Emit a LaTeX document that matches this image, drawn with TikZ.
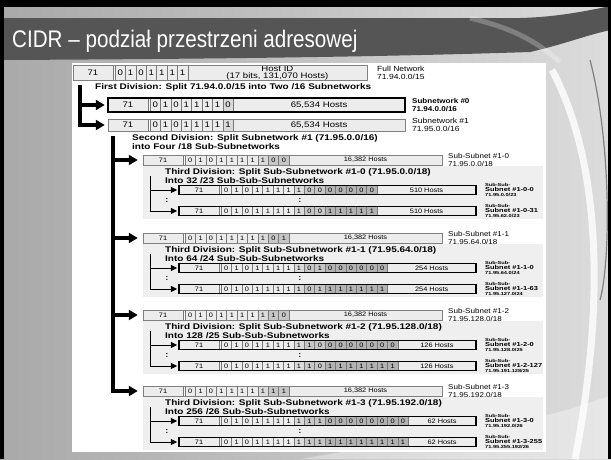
\documentclass[tikz,border=0pt]{standalone}
\usepackage{fontspec}
\setmainfont{Liberation Sans}
\newfontfamily\wideA[FakeStretch=1.15]{Liberation Sans}
\newfontfamily\wideD[FakeStretch=1.2]{Liberation Sans}
\newfontfamily\wideB[FakeStretch=1.22]{Liberation Sans}
\newfontfamily\wideC[FakeStretch=1.28]{Liberation Sans}
\newfontfamily\narrowT[FakeStretch=0.86]{Liberation Sans}
\usetikzlibrary{arrows.meta}
\definecolor{c0}{HTML}{ECECEC}
\definecolor{c1}{HTML}{DADADA}
\definecolor{c2}{HTML}{C6C6C6}
\definecolor{c3}{HTML}{B2B2B2}
\definecolor{cellline}{HTML}{777777}
\definecolor{panelgray}{HTML}{EFEFEF}
\definecolor{band}{HTML}{555555}
\definecolor{bgL}{HTML}{A9A9A9}
\definecolor{bgR}{HTML}{DCDCDC}
\tikzset{
  cell/.style={draw=cellline, fill=c0, line width=0.5pt},
  ctextbig/.style={font=\wideD\fontsize{8}{7.7}\selectfont, inner sep=0pt, align=center},
  ctextsmall/.style={font=\wideA\fontsize{6.4}{7}\selectfont, inner sep=0pt, align=center},
  ctext/.style={ctextbig},
  thinframe/.style={draw=gray, line width=0.7pt},
  thickframe/.style={draw=black, line width=1.4pt},
  head/.style={font=\wideB\bfseries\fontsize{8.2}{8.4}\selectfont, anchor=west, align=left, inner sep=0pt},
  netlabel/.style={font=\wideA\fontsize{7.4}{7.8}\selectfont, anchor=west, align=left, inner sep=0pt},
  sslabel/.style={font=\wideA\fontsize{7}{7.8}\selectfont, anchor=west, align=left, inner sep=0pt},
  ssslabel/.style={font=\wideC\bfseries\fontsize{4.4}{5.3}\selectfont, anchor=west, align=left, inner sep=0pt},
  dotsty/.style={font=\bfseries\fontsize{8}{8}\selectfont, inner sep=0pt},
  bigarrow/.style={line width=3.2pt, -{Triangle[length=9pt,width=10pt]}},
  smallarrow/.style={line width=1pt, -{Triangle[length=6.5pt,width=6pt]}},
  panel/.style={fill=panelgray},
}
% #1 name, #2 y, #3 x0, #4 h, #5 nbits, #6 bits list macro, #7 xend, #8 hosts text, #9 frame style
\newcommand\bitrow[9]{%
  \pgfmathsetmacro\rA{#2-#4/2}%
  \pgfmathsetmacro\rB{#2+#4/2}%
  \pgfmathsetmacro\rH{#3+42+#5*10.4}%
  \edef\bitlist{#6}%
  \node[cell, ctext, minimum width=40pt, minimum height=#4pt] (#1) at ({#3+20},#2) {71};
  \foreach \bv/\bc [count=\bi] in \bitlist {%
    \draw[cell, fill=\bc] ({#3+42+(\bi-1)*10.4},\rA) rectangle ({#3+42+\bi*10.4},\rB);
    \node[ctext] at ({#3+42+(\bi-0.5)*10.4},#2) {\bv};
  }
  \draw[cell] (\rH,\rA) rectangle (#7,\rB);
  \node[ctext] (#1h) at ({(\rH+#7)/2},#2) {#8};
  \draw[#9] (#3,\rA) rectangle (#7,\rB);
}
\newcommand\ssblock[9]{%
  \pgfmathsetmacro\yA{#2+30}%
  \pgfmathsetmacro\yB{#2+51}%
  \pgfmathsetmacro\yD{#2+40.5}%
  \pgfmathsetmacro\yH{#2+16}%
  \pgfmathsetmacro\yP{#2+5.5}%
  \pgfmathsetmacro\yQ{#2+59}%
  \fill[panel] (143,\yP) rectangle (543,\yQ);
  \bitrow{ss#1}{#2}{143}{10}{10}{\bitsS}{442}{16,382 Hosts}{thinframe}
  \node[sslabel] (ssl#1) at (448,#2) {Sub-Subnet \#1-#1\\71.95.#3.0/18};
  \node[head] (th#1) at (165,\yH) {Third Division: Split Sub-Subnetwork \#1-#1 (71.95.#3.0/18)\\Into #4 Sub-Sub-Subnetworks};
  \bitrow{sa#1}{\yA}{179}{9}{#5}{\bitsA}{476}{#6}{thickframe}
  \bitrow{sb#1}{\yB}{179}{9}{#5}{\bitsB}{476}{#6}{thickframe}
  \node[ssslabel] (la#1) at (485,\yA) {Sub-Sub-\\{\fontsize{5.8}{5.3}\selectfont Subnet \#1-#1-0}\\#8};
  \node[ssslabel] (lb#1) at (485,\yB) {Sub-Sub-\\{\fontsize{5.8}{5.3}\selectfont Subnet \#1-#1-#7}\\#9};
  \coordinate (t#1) at (150,\yH);
  \draw[smallarrow, shorten >=1.5pt] (t#1) |- (sa#1.west);
  \draw[smallarrow, shorten >=1.5pt] (t#1) |- (sb#1.west);
  \node[dotsty] (da#1) at (167,\yD) {:};
  \node[dotsty] (db#1) at (300,\yD) {:};
}
\begin{document}
\begin{tikzpicture}[x=1pt,y=-1pt]
\useasboundingbox (0,0) rectangle (611,459);
% background
\shade[left color=bgL, right color=bgR] (0,0) rectangle (611,459);
\fill[white, opacity=0.35] (300,459) .. controls (420,438) and (520,430) .. (611,395) -- (611,459) -- cycle;
\draw[white, opacity=0.8, line width=7pt] (552,70) .. controls (600,160) and (606,300) .. (575,459);
\draw[gray, line width=1.2pt] (590,60) .. controls (611,140) and (611,260) .. (600,300);
% title band
\fill[band] (4,18) -- (520,18) .. controls (560,17) and (590,10) .. (611,6) -- (611,30) .. controls (590,34) and (565,44) .. (530,52) .. controls (380,57) and (200,59) .. (4,60) -- cycle;
\draw[white, opacity=0.25, line width=5pt] (470,18) .. controls (520,30) and (540,45) .. (560,62);
% frame
\fill[black] (0,0) rectangle (611,7);
\fill[black] (0,0) rectangle (4,459);
\fill[black] (608,0) rectangle (611,459);
\node[anchor=base west, inner sep=0pt, text=white, font=\narrowT\fontsize{24}{26}\selectfont] (title) at (12,47) {CIDR – podział przestrzeni adresowej};
% diagram canvas
\fill[white] (72,63) rectangle (546,452);
\def\bitsP{0/c0,1/c0,0/c0,1/c0,1/c0,1/c0,1/c0}
\bitrow{r0}{73}{73}{15}{7}{\bitsP}{367}{Host ID\\(17 bits, 131,070 Hosts)}{thinframe}
\node[netlabel] (l0) at (377,73) {Full Network\\71.94.0.0/15};
\node[head] (h1) at (95,87) {First Division: Split 71.94.0.0/15 into Two /16 Subnetworks};
\def\bitsA{\bitsP,0/c1}
\def\bitsB{\bitsP,1/c1}
\bitrow{r1}{105}{108}{14}{8}{\bitsA}{405}{65,534 Hosts}{thickframe}
\bitrow{r2}{125}{108}{12}{8}{\bitsB}{405}{65,534 Hosts}{thinframe}
\node[netlabel, font=\wideA\bfseries\fontsize{7}{7.8}\selectfont] (l1) at (412,105) {Subnetwork \#0\\71.94.0.0/16};
\node[netlabel] (l2) at (412,125) {Subnetwork \#1\\71.95.0.0/16};
\coordinate (b1) at (80,85);
\draw[bigarrow, shorten >=3pt] (b1) |- (r1.west);
\draw[bigarrow, shorten >=3pt] (b1) |- (r2.west);
\node[head] (h2) at (132,142) {Second Division: Split Subnetwork \#1 (71.95.0.0/16)\\into Four /18 Sub-Subnetworks};
\tikzset{ctext/.style={ctextsmall}}
% block 1-0
\def\bitsS{\bitsP,1/c1,0/c2,0/c2}
\def\bitsA{\bitsS,0/c3,0/c3,0/c3,0/c3,0/c3}
\def\bitsB{\bitsS,1/c3,1/c3,1/c3,1/c3,1/c3}
\ssblock{0}{160}{0}{32 /23}{15}{510 Hosts}{31}{71.95.0.0/23}{71.95.62.0/23}
% block 1-1
\def\bitsS{\bitsP,1/c1,0/c2,1/c2}
\def\bitsA{\bitsS,0/c3,0/c3,0/c3,0/c3,0/c3,0/c3}
\def\bitsB{\bitsS,1/c3,1/c3,1/c3,1/c3,1/c3,1/c3}
\ssblock{1}{238}{64}{64 /24}{16}{254 Hosts}{63}{71.95.64.0/24}{71.95.127.0/24}
% block 1-2
\def\bitsS{\bitsP,1/c1,1/c2,0/c2}
\def\bitsA{\bitsS,0/c3,0/c3,0/c3,0/c3,0/c3,0/c3,0/c3}
\def\bitsB{\bitsS,1/c3,1/c3,1/c3,1/c3,1/c3,1/c3,1/c3}
\ssblock{2}{315}{128}{128 /25}{17}{126 Hosts}{127}{71.95.128.0/25}{71.95.191.128/25}
% block 1-3
\def\bitsS{\bitsP,1/c1,1/c2,1/c2}
\def\bitsA{\bitsS,0/c3,0/c3,0/c3,0/c3,0/c3,0/c3,0/c3,0/c3}
\def\bitsB{\bitsS,1/c3,1/c3,1/c3,1/c3,1/c3,1/c3,1/c3,1/c3}
\ssblock{3}{391}{192}{256 /26}{18}{62 Hosts}{255}{71.95.192.0/26}{71.95.255.192/26}
\coordinate (b2) at (113,136);
\foreach \k in {0,1,2,3} \draw[bigarrow, shorten >=5pt] (b2) |- (ss\k.west);
\end{tikzpicture}
\end{document}
